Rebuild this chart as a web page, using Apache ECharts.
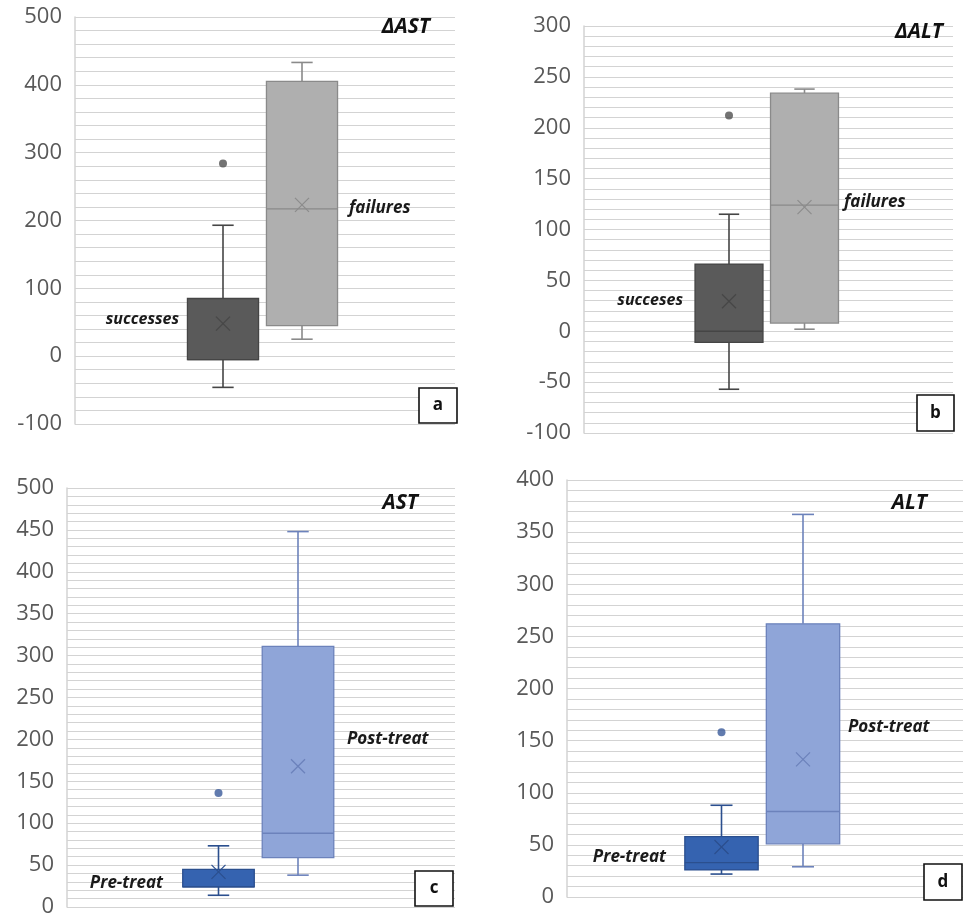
<!DOCTYPE html>
<html><head><meta charset="utf-8">
<script src="https://cdn.jsdelivr.net/npm/echarts@6/dist/echarts.min.js"></script>
<style>html,body{margin:0;padding:0;background:#fff}#c{width:964px;height:916px}</style>
</head><body><div id="c"></div>
<script>
// ---------- DATA ----------
// box stats: [min, Q1, median, Q3, max]
// Panel a: ΔAST
const aCategories = ['successes', 'failures'];
const aBoxes = [[-46, -5, -5, 85, 193], [25, 45, 217, 405, 433]];
const aMeans = [48, 223];
const aOutliers = [[0, 284]];
const aAxis = [-100, 500, 100]; // min, max, interval
// Panel b: ΔALT
const bCategories = ['succeses', 'failures'];
const bBoxes = [[-57, -11, 0, 66, 115], [2, 8, 124, 234, 238]];
const bMeans = [29.5, 122];
const bOutliers = [[0, 212]];
const bAxis = [-100, 300, 50];
// Panel c: AST
const cCategories = ['Pre-treat', 'Post-treat'];
const cBoxes = [[14, 24, 24, 45, 73], [38, 59, 88, 311, 448]];
const cMeans = [42, 168];
const cOutliers = [[0, 136]];
const cAxis = [0, 500, 50];
// Panel d: ALT
const dCategories = ['Pre-treat', 'Post-treat'];
const dBoxes = [[22, 26, 33, 58, 88], [29, 51, 82, 262, 367]];
const dMeans = [48, 132];
const dOutliers = [[0, 158]];
const dAxis = [0, 400, 50];
const panelTitles = ['ΔAST', 'ΔALT', 'AST', 'ALT'];
const panelLetters = ['a', 'b', 'c', 'd'];

// ---------- STYLE / LAYOUT ----------
const grayStyle = {fills: ['#5a5a5a', '#afafaf'], strokes: ['#454545', '#8a8a8a'], marks: ['#474747', '#8c8c8c'], outlier: '#505050'};
const blueStyle = {fills: ['#3563b0', '#8fa5d8'], strokes: ['#2b4f8e', '#6c82bb'], marks: ['#2b4f8e', '#6c82bb'], outlier: '#3a5a9a'};

const panels = [
  {cats: aCategories, boxes: aBoxes, means: aMeans, outliers: aOutliers, axis: aAxis, st: grayStyle,
   grid: {left: 75, top: 17, width: 380, height: 407}, inner: {left: 183.5, width: 158},
   title: [430, 27], letterBox: [419, 388, 38, 35],
   labels: [[179, 319, 'right'], [349, 208, 'left']], labelSize: [16, 17]},
  {cats: bCategories, boxes: bBoxes, means: bMeans, outliers: bOutliers, axis: bAxis, st: grayStyle,
   grid: {left: 584, top: 26, width: 369, height: 407}, inner: {left: 691.25, width: 151},
   title: [943, 32], letterBox: [917, 395, 37, 36],
   labels: [[683, 300, 'right'], [844, 202, 'left']], labelSize: [16, 17]},
  {cats: cCategories, boxes: cBoxes, means: cMeans, outliers: cOutliers, axis: cAxis, st: blueStyle,
   grid: {left: 67, top: 488, width: 388, height: 419}, inner: {left: 178.75, width: 159},
   title: [418, 503], letterBox: [415, 871, 38, 35],
   labels: [[163, 883, 'right'], [347, 739, 'left']], labelSize: [17, 17]},
  {cats: dCategories, boxes: dBoxes, means: dMeans, outliers: dOutliers, axis: dAxis, st: blueStyle,
   grid: {left: 567, top: 480, width: 396, height: 417}, inner: {left: 680.75, width: 163},
   title: [927, 503], letterBox: [924, 864, 38, 36],
   labels: [[666, 857, 'right'], [848, 727, 'left']], labelSize: [17, 17]}
];

const FONT = '"Open Sans", "Noto Sans", sans-serif';
const gridColor = '#d3d3d3';

function makeRender(st) {
  return function (params, api) {
    const i = params.dataIndex;
    const c = api.value(0);
    const band = api.size([1, 0])[0];
    const bw = band * 0.9, cap = bw * 0.3;
    const y = v => api.coord([c, v])[1];
    const cx = api.coord([c, api.value(2)])[0];
    const mn = y(api.value(1)), q1 = y(api.value(2)), md = y(api.value(3)),
          q3 = y(api.value(4)), mx = y(api.value(5)), mean = y(api.value(6));
    const ls = {stroke: st.strokes[i], lineWidth: 1.6};
    const xs = 7;
    return {type: 'group', children: [
      {type: 'line', shape: {x1: cx, y1: q3, x2: cx, y2: mx}, style: ls},
      {type: 'line', shape: {x1: cx, y1: q1, x2: cx, y2: mn}, style: ls},
      {type: 'line', shape: {x1: cx - cap / 2, y1: mx, x2: cx + cap / 2, y2: mx}, style: ls},
      {type: 'line', shape: {x1: cx - cap / 2, y1: mn, x2: cx + cap / 2, y2: mn}, style: ls},
      {type: 'rect', shape: {x: cx - bw / 2, y: q3, width: bw, height: q1 - q3},
       style: {fill: st.fills[i], stroke: st.strokes[i], lineWidth: 1.3}},
      {type: 'line', shape: {x1: cx - bw / 2, y1: md, x2: cx + bw / 2, y2: md}, style: {stroke: st.strokes[i], lineWidth: 1.3}},
      {type: 'line', shape: {x1: cx - xs, y1: mean - xs, x2: cx + xs, y2: mean + xs}, style: {stroke: st.marks[i], lineWidth: 1.2}},
      {type: 'line', shape: {x1: cx - xs, y1: mean + xs, x2: cx + xs, y2: mean - xs}, style: {stroke: st.marks[i], lineWidth: 1.2}}
    ]};
  };
}

const option = {
  backgroundColor: '#ffffff',
  animation: false,
  grid: [], xAxis: [], yAxis: [], series: [], graphic: []
};

panels.forEach((p, k) => {
  const gA = 2 * k, gB = 2 * k + 1;
  option.grid.push({left: p.grid.left, top: p.grid.top, width: p.grid.width, height: p.grid.height, containLabel: false, outerBoundsMode: 'none'});
  option.grid.push({left: p.inner.left, top: p.grid.top, width: p.inner.width, height: p.grid.height, containLabel: false, outerBoundsMode: 'none'});
  option.xAxis.push({gridIndex: gA, type: 'category', data: [''], show: false});
  option.xAxis.push({gridIndex: gB, type: 'category', data: p.cats, show: false});
  option.yAxis.push({
    gridIndex: gA, type: 'value', min: p.axis[0], max: p.axis[1], interval: p.axis[2],
    axisLine: {show: true, lineStyle: {color: gridColor, width: 1.5}},
    axisTick: {show: false},
    axisLabel: {color: '#595959', fontFamily: FONT, fontSize: 22, margin: 13, padding: [4, 0, 0, 0]},
    splitLine: {show: true, lineStyle: {color: gridColor, width: 1.2}},
    minorTick: {show: false, splitNumber: 5},
    minorSplitLine: {show: true, lineStyle: {color: gridColor, width: 1.2}}
  });
  option.yAxis.push({gridIndex: gB, type: 'value', min: p.axis[0], max: p.axis[1], show: false, splitLine: {show: false}});
  option.series.push({
    type: 'custom', xAxisIndex: gB, yAxisIndex: gB,
    renderItem: makeRender(p.st),
    encode: {x: 0, y: [1, 2, 3, 4, 5, 6]},
    data: p.boxes.map((b, i) => [i].concat(b, [p.means[i]])),
    z: 3
  });
  option.series.push({
    type: 'scatter', xAxisIndex: gB, yAxisIndex: gB,
    symbol: 'circle', symbolSize: 8,
    itemStyle: {color: p.st.outlier},
    data: p.outliers, z: 4
  });
  // panel title
  option.graphic.push({type: 'text', x: p.title[0], y: p.title[1], z: 10,
    style: {text: panelTitles[k], font: 'italic bold 21px ' + FONT, fill: '#111', align: 'right', verticalAlign: 'middle'}});
  // group labels
  p.labels.forEach((l, i) => {
    option.graphic.push({type: 'text', x: l[0], y: l[1], z: 10,
      style: {text: p.cats[i], font: 'italic bold ' + p.labelSize[i] + 'px ' + FONT, fill: '#1a1a1a', align: l[2], verticalAlign: 'middle'}});
  });
  // letter box
  const lb = p.letterBox;
  option.graphic.push({type: 'rect', z: 10, shape: {x: lb[0], y: lb[1], width: lb[2], height: lb[3]},
    style: {fill: '#ffffff', stroke: '#111', lineWidth: 1.6}});
  option.graphic.push({type: 'text', z: 11, x: lb[0] + lb[2] / 2, y: lb[1] + lb[3] / 2,
    style: {text: panelLetters[k], font: 'bold 17px ' + FONT, fill: '#111', align: 'center', verticalAlign: 'middle'}});
});

const chart = echarts.init(document.getElementById('c'), null, {renderer: 'canvas'});
chart.setOption(option);
</script>
</body></html>
